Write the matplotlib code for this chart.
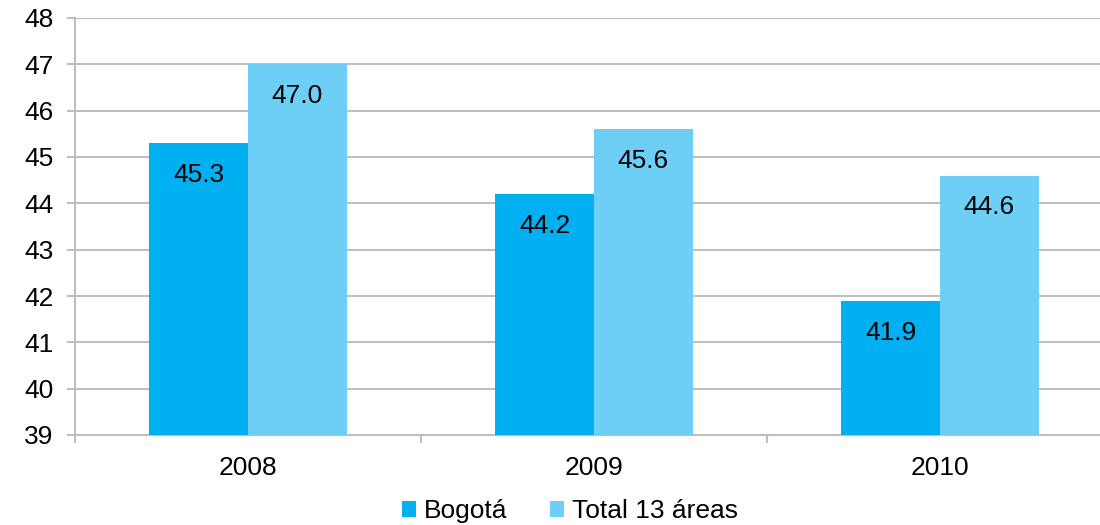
import numpy as np
import matplotlib.pyplot as plt
from matplotlib.ticker import MultipleLocator

years = ["2008", "2009", "2010"]
bogota = [45.3, 44.2, 41.9]
total13 = [47.0, 45.6, 44.6]

plt.rcParams['font.family'] = ['Liberation Sans', 'DejaVu Sans']

fig = plt.figure(figsize=(11, 5.25), dpi=100)
ax = fig.add_axes([75 / 1100, 1 - 435 / 525, 1038 / 1100, (435 - 18) / 525])

x = np.arange(len(years))
w = 0.285
b1 = ax.bar(x - w / 2, np.array(bogota) - 39, w, bottom=39, color='#00B0F0', label='Bogotá', zorder=3)
b2 = ax.bar(x + w / 2, np.array(total13) - 39, w, bottom=39, color='#6DCFF6', label='Total 13 áreas', zorder=3)

# value labels sit inside each bar, a bit under its top
for bars, vals in ((b1, bogota), (b2, total13)):
    for r, v in zip(bars, vals):
        ax.annotate(f"{v:.1f}", (r.get_x() + r.get_width() / 2, v), xytext=(0, -23),
                    textcoords='offset points', ha='center', va='center', fontsize=19)

ax.set_ylim(39, 48)
ax.set_xlim(-0.5, 2.5)
ax.yaxis.set_major_locator(MultipleLocator(1))
ax.grid(axis='y', color='#BFBFBF', linewidth=1.5, zorder=0)
ax.set_axisbelow(True)

ax.set_xticks(x)
ax.set_xticklabels(years)
ax.set_xticks([-0.5, 0.5, 1.5, 2.5], minor=True)
ax.tick_params(axis='x', which='major', length=0, pad=15, labelsize=19)
ax.tick_params(axis='x', which='minor', length=5.5, width=1.5, color='#BFBFBF')
ax.tick_params(axis='y', length=5.5, width=1.5, color='#BFBFBF', labelsize=19, pad=10)

for s in ('top', 'right'):
    ax.spines[s].set_visible(False)
for s in ('left', 'bottom'):
    ax.spines[s].set_color('#BFBFBF')
    ax.spines[s].set_linewidth(1.5)

fig.legend(handles=[b1, b2], loc='center', bbox_to_anchor=(570 / 1100, 1 - 511 / 525),
           ncol=2, frameon=False, fontsize=19, handlelength=0.55, handleheight=0.55,
           handletextpad=0.3, columnspacing=1.6, borderpad=0)

fig.savefig('out.png', dpi=100)
